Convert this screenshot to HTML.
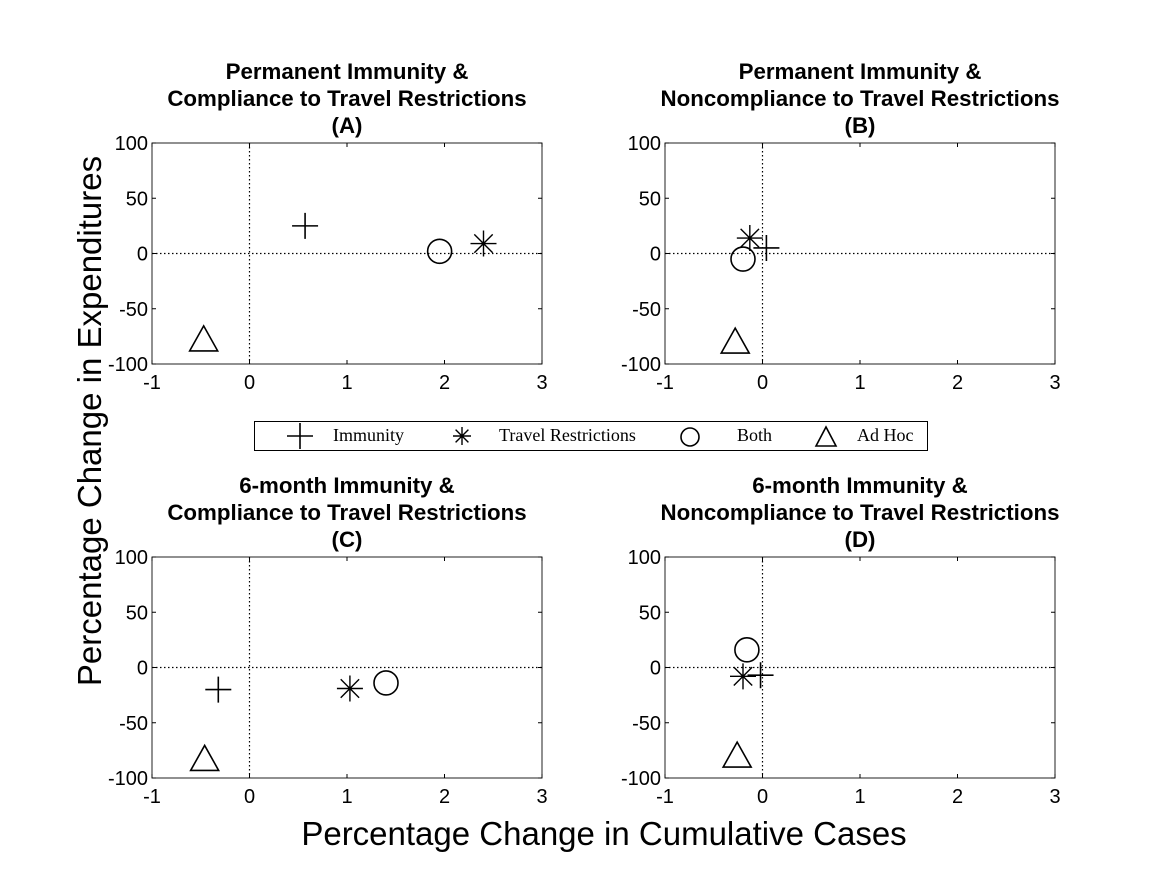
<!DOCTYPE html>
<html><head><meta charset="utf-8"><style>
body{margin:0;background:#fff;}
text{font-family:"Liberation Sans",Arial,sans-serif;fill:#000;}
.lg{font-family:"Liberation Serif",serif;}
</style></head><body>
<svg id="chart" width="1167" height="875" xmlns="http://www.w3.org/2000/svg">
<text x="101" y="421" font-size="33" text-anchor="middle" transform="rotate(-90 101 421)" fill="#222">Percentage Change in Expenditures</text>
<text x="604" y="845" font-size="33" text-anchor="middle" fill="#222">Percentage Change in Cumulative Cases</text>
<g>
<rect x="254.5" y="421.5" width="673" height="29" fill="#fff" stroke="#000" stroke-width="1"/>
<path d="M287 436h26M300 423v26" stroke="#000" stroke-width="1.6"/>
<text class="lg" x="333" y="441" font-size="18">Immunity</text>
<path d="M453 436h18M462 427v18M455.6 429.6l12.8 12.8M468.4 429.6l-12.8 12.8" stroke="#000" stroke-width="1.4"/>
<text class="lg" x="499" y="441" font-size="18">Travel Restrictions</text>
<circle cx="690" cy="437" r="9" fill="none" stroke="#000" stroke-width="1.6"/>
<text class="lg" x="737" y="441" font-size="18">Both</text>
<path d="M816 446l10-19l10 19z" fill="none" stroke="#000" stroke-width="1.6"/>
<text class="lg" x="857" y="441" font-size="18">Ad Hoc</text>
</g>
</svg>
<script>
const xTicks=[-1,0,1,2,3];
const yTicks=[100,50,0,-50,-100];
const titlesA=["Permanent Immunity &","Compliance to Travel Restrictions","(A)"];
const titlesB=["Permanent Immunity &","Noncompliance to Travel Restrictions","(B)"];
const titlesC=["6-month Immunity &","Compliance to Travel Restrictions","(C)"];
const titlesD=["6-month Immunity &","Noncompliance to Travel Restrictions","(D)"];
const immunityX=[0.57,0.04,-0.32,-0.02];
const immunityY=[25,5,-20,-7];
const travelX=[2.4,-0.13,1.03,-0.2];
const travelY=[9,14,-19,-8];
const bothX=[1.95,-0.2,1.4,-0.16];
const bothY=[2,-5,-14,16];
const adhocX=[-0.47,-0.28,-0.46,-0.26];
const adhocY=[-80,-82,-85,-82];
const NS="http://www.w3.org/2000/svg";
const svg=document.getElementById('chart');
const panels=[{l:152,t:143,titles:titlesA,id:'a'},{l:665,t:143,titles:titlesB,id:'b'},{l:152,t:557,titles:titlesC,id:'c'},{l:665,t:557,titles:titlesD,id:'d'}];
const W=390,H=221;
function mk(tag,attrs,parent){const e=document.createElementNS(NS,tag);for(const k in attrs)e.setAttribute(k,attrs[k]);parent.appendChild(e);return e;}
panels.forEach((p,i)=>{
  const g=mk('g',{},svg);
  
  
  const sx=v=>p.l+(v+1)/4*W;
  const sy=v=>p.t+(100-v)/200*H;
  p.titles.forEach((t,k)=>{
    const tx=mk('text',{x:p.l+W/2,y:p.t-64+k*27,'font-size':'22.3','font-weight':'bold','text-anchor':'middle'},g);
    tx.textContent=t;
    
    
  });
  mk('line',{x1:sx(0),x2:sx(0),y1:p.t,y2:p.t+H,stroke:'#000','stroke-dasharray':'1.5 2.5','stroke-width':1.2},g);
  mk('line',{x1:p.l,x2:p.l+W,y1:sy(0),y2:sy(0),stroke:'#000','stroke-dasharray':'1.5 2.5','stroke-width':1.2},g);
  const r=mk('rect',{x:p.l,y:p.t,width:W,height:H,fill:'none',stroke:'#222','stroke-width':1},g);
  
  
  xTicks.forEach(v=>{
    mk('line',{x1:sx(v),x2:sx(v),y1:p.t+H,y2:p.t+H-4,stroke:'#000'},g);
    mk('line',{x1:sx(v),x2:sx(v),y1:p.t,y2:p.t+4,stroke:'#000'},g);
    const t=mk('text',{x:sx(v),y:p.t+H+25,'font-size':'20','text-anchor':'middle',fill:'#222'},g);
    t.textContent=v;
    
    
  });
  yTicks.forEach(v=>{
    mk('line',{x1:p.l,x2:p.l+4,y1:sy(v),y2:sy(v),stroke:'#000'},g);
    mk('line',{x1:p.l+W,x2:p.l+W-4,y1:sy(v),y2:sy(v),stroke:'#000'},g);
    const t=mk('text',{x:p.l-4,y:sy(v)+7,'font-size':'20','text-anchor':'end',fill:'#222'},g);
    t.textContent=v;
    
    
  });
  let x=sx(immunityX[i]),y=sy(immunityY[i]);
  const m1=mk('path',{d:`M${x-13} ${y}h26M${x} ${y-13}v26`,stroke:'#000','stroke-width':1.6},g);
  
  
  x=sx(travelX[i]);y=sy(travelY[i]);
  const m2=mk('path',{d:`M${x-13} ${y}h26M${x} ${y-13}v26M${x-9.2} ${y-9.2}l18.4 18.4M${x+9.2} ${y-9.2}l-18.4 18.4`,stroke:'#000','stroke-width':1.4},g);
  
  
  x=sx(bothX[i]);y=sy(bothY[i]);
  const m3=mk('circle',{cx:x,cy:y,r:12,fill:'none',stroke:'#000','stroke-width':1.6},g);
  
  
  x=sx(adhocX[i]);y=sy(adhocY[i]);
  const m4=mk('path',{d:`M${x-14} ${y+9}L${x} ${y-16}L${x+14} ${y+9}Z`,fill:'none',stroke:'#000','stroke-width':1.6},g);
  
  
});
</script>
</body></html>
